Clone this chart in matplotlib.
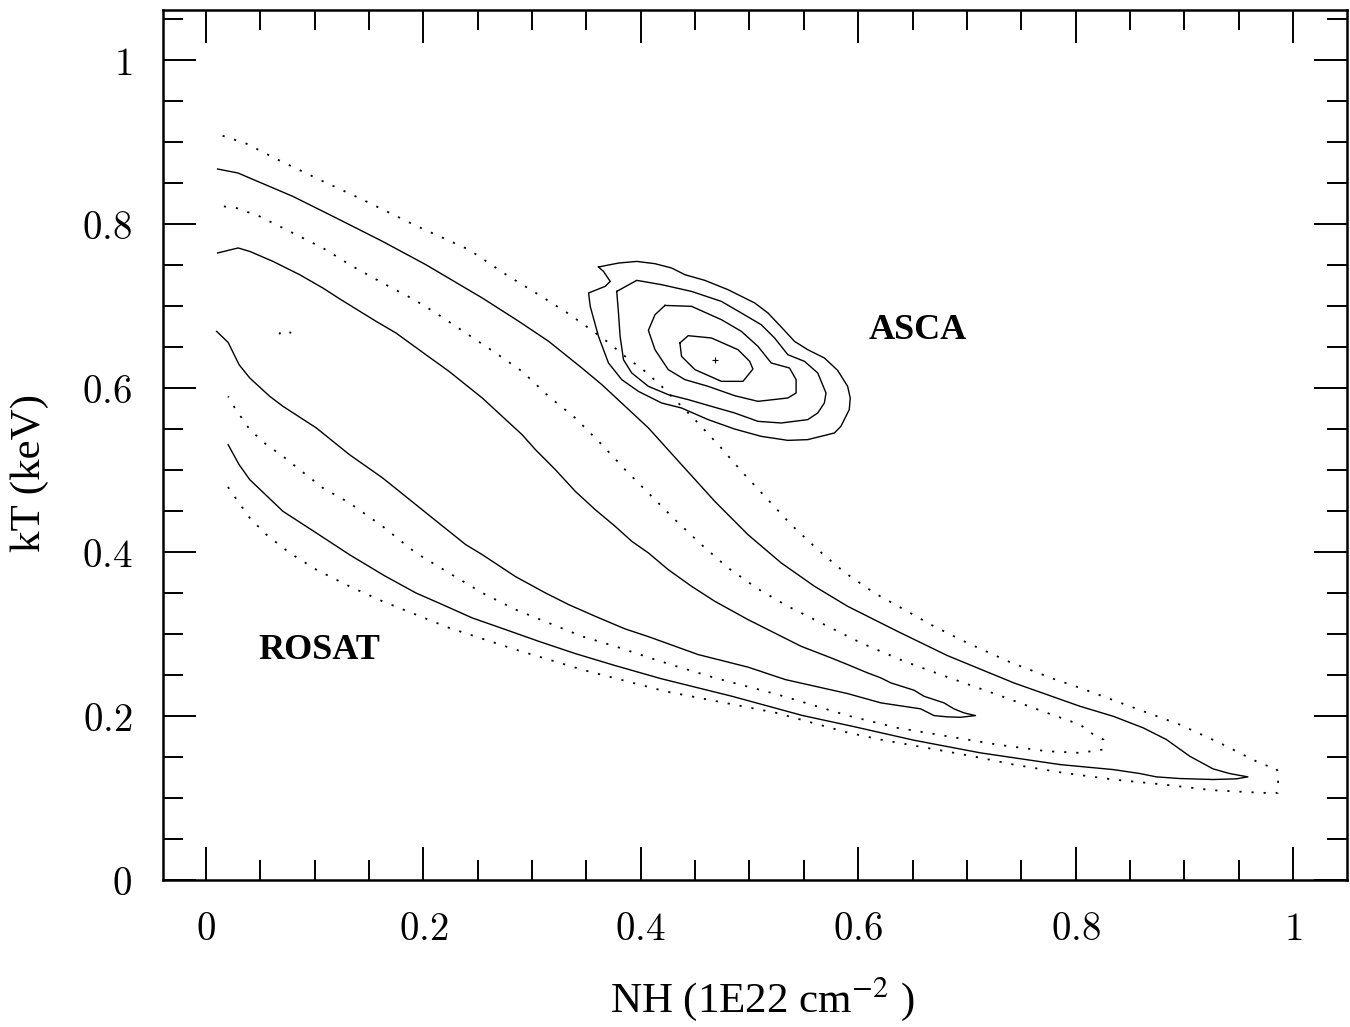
import matplotlib
matplotlib.use("Agg")
import matplotlib.pyplot as plt
from matplotlib.ticker import MultipleLocator

# ---- ROSAT confidence contours (NH, kT) ----
# outer dotted contour: upper branch out to the tip, then lower branch back
rosat_d1_nh = [0.0153, 0.0373, 0.0648, 0.1045, 0.1442, 0.1931, 0.2420, 0.2786, 0.3061, 0.3336,
               0.3520, 0.3687, 0.3856, 0.4039, 0.4192, 0.4345, 0.4498, 0.4727, 0.4940, 0.5170,
               0.5383, 0.5628, 0.5873, 0.6148, 0.6423, 0.6697, 0.7003, 0.7400, 0.7797, 0.8041,
               0.8500, 0.8958, 0.9325, 0.9722, 0.9844, 0.9865, 0.9860,
               0.9722, 0.9264, 0.8806, 0.8347, 0.7889, 0.7431, 0.7090, 0.6820, 0.6205, 0.5903,
               0.5248, 0.4225, 0.3458, 0.2848, 0.2236, 0.1625, 0.1320, 0.1015, 0.0770, 0.0556,
               0.0403, 0.0250, 0.0174]
rosat_d1_kt = [0.9073, 0.8976, 0.8789, 0.8537, 0.8293, 0.7976, 0.7683, 0.7357, 0.7134, 0.6902,
               0.6728, 0.6565, 0.6382, 0.6199, 0.6016, 0.5813, 0.5610, 0.5284, 0.4960, 0.4634,
               0.4329, 0.4024, 0.3748, 0.3496, 0.3293, 0.3089, 0.2887, 0.2650, 0.2448, 0.2338,
               0.2113, 0.1890, 0.1667, 0.1402, 0.1362, 0.1301, 0.1057,
               0.1057, 0.1089, 0.1159, 0.1220, 0.1301, 0.1402, 0.1494, 0.1561, 0.1707, 0.1793,
               0.2033, 0.2296, 0.2561, 0.2805, 0.3070, 0.3394, 0.3577, 0.3780, 0.3984, 0.4207,
               0.4411, 0.4695, 0.4845]

# outer solid contour
rosat_s1_nh = [0.0107, 0.0296, 0.0403, 0.0800, 0.1198, 0.1625, 0.2023, 0.2542, 0.2878, 0.3153,
               0.3458, 0.3642, 0.4070, 0.4375, 0.4681, 0.4986, 0.5292, 0.5598, 0.5903, 0.6361,
               0.6820, 0.7431, 0.8041, 0.8347, 0.8622, 0.8836, 0.9050, 0.9264, 0.9416, 0.9585,
               0.9478, 0.9264, 0.8958, 0.8744, 0.8591, 0.8347, 0.7858, 0.7125, 0.6514, 0.5944,
               0.5490, 0.4840, 0.4184, 0.3764, 0.3398, 0.3061, 0.2756, 0.2450, 0.2175, 0.1931,
               0.1641, 0.1320, 0.1015, 0.0709, 0.0403, 0.0305, 0.0204]
rosat_s1_kt = [0.8667, 0.8618, 0.8557, 0.8333, 0.8070, 0.7784, 0.7500, 0.7094, 0.6809, 0.6565,
               0.6240, 0.6037, 0.5509, 0.5061, 0.4613, 0.4207, 0.3862, 0.3577, 0.3333, 0.3028,
               0.2732, 0.2399, 0.2113, 0.1991, 0.1850, 0.1707, 0.1504, 0.1350, 0.1293, 0.1252,
               0.1228, 0.1220, 0.1232, 0.1252, 0.1293, 0.1341, 0.1402, 0.1545, 0.1699, 0.1870,
               0.2000, 0.2235, 0.2451, 0.2610, 0.2756, 0.2906, 0.3049, 0.3191, 0.3354, 0.3496,
               0.3707, 0.3963, 0.4228, 0.4491, 0.4878, 0.5061, 0.5305]

# inner dotted contour
rosat_d2_nh = [0.0165, 0.0281, 0.0495, 0.0770, 0.1075, 0.1350, 0.1625, 0.1916, 0.2115, 0.2390,
               0.2665, 0.2908, 0.3153, 0.3398, 0.3642, 0.3856, 0.4085, 0.4314, 0.4558, 0.4803,
               0.5078, 0.5353, 0.5658, 0.6025, 0.6423, 0.6820, 0.7278, 0.7736, 0.8041, 0.8164,
               0.8256, 0.8249,
               0.8041, 0.7736, 0.7278, 0.6820, 0.6361, 0.5903, 0.5261, 0.4681, 0.4375, 0.4131,
               0.3764, 0.3458, 0.3153, 0.2848, 0.2542, 0.2236, 0.1931, 0.1625, 0.1320, 0.1075,
               0.0862, 0.0709, 0.0556, 0.0403, 0.0266, 0.0204]
rosat_d2_kt = [0.8211, 0.8191, 0.8089, 0.7906, 0.7704, 0.7479, 0.7277, 0.7073, 0.6911, 0.6667,
               0.6423, 0.6199, 0.5894, 0.5630, 0.5305, 0.5000, 0.4695, 0.4390, 0.4085, 0.3801,
               0.3545, 0.3333, 0.3130, 0.2887, 0.2662, 0.2470, 0.2256, 0.2033, 0.1890, 0.1768,
               0.1707, 0.1585,
               0.1545, 0.1565, 0.1646, 0.1748, 0.1850, 0.2000, 0.2256, 0.2460, 0.2582, 0.2683,
               0.2845, 0.2967, 0.3130, 0.3293, 0.3496, 0.3740, 0.3984, 0.4309, 0.4594, 0.4777,
               0.5000, 0.5162, 0.5305, 0.5488, 0.5752, 0.5894]

# inner solid contour
rosat_s2_nh = [0.0107, 0.0296, 0.0403, 0.0617, 0.0862, 0.1075, 0.1228, 0.1565, 0.1748, 0.2023,
               0.2236, 0.2542, 0.2725, 0.2908, 0.3031, 0.3214, 0.3398, 0.3581, 0.3764, 0.3917,
               0.4070, 0.4253, 0.4467, 0.4681, 0.4986, 0.5292, 0.5475, 0.5750, 0.5903, 0.6086,
               0.6208, 0.6300, 0.6514, 0.6606, 0.6789, 0.6881, 0.6973, 0.7079,
               0.6941, 0.6820, 0.6697, 0.6575, 0.6208, 0.5903, 0.5330, 0.4986, 0.4528, 0.4070,
               0.3856, 0.3581, 0.3336, 0.3123, 0.2848, 0.2542, 0.2390, 0.2083, 0.1931, 0.1625,
               0.1320, 0.1015, 0.0709, 0.0587, 0.0403, 0.0305, 0.0204, 0.0098]
rosat_s2_kt = [0.7643, 0.7704, 0.7662, 0.7540, 0.7378, 0.7216, 0.7085, 0.6809, 0.6667, 0.6402,
               0.6199, 0.5874, 0.5650, 0.5427, 0.5244, 0.5000, 0.4735, 0.4512, 0.4309, 0.4126,
               0.3984, 0.3780, 0.3577, 0.3394, 0.3171, 0.2967, 0.2845, 0.2704, 0.2622, 0.2521,
               0.2460, 0.2399, 0.2309, 0.2235, 0.2155, 0.2082, 0.2033, 0.2000,
               0.1979, 0.1984, 0.2000, 0.2082, 0.2155, 0.2268, 0.2439, 0.2591, 0.2744, 0.2963,
               0.3057, 0.3211, 0.3354, 0.3496, 0.3695, 0.3963, 0.4085, 0.4411, 0.4573, 0.4899,
               0.5183, 0.5509, 0.5772, 0.5894, 0.6118, 0.6280, 0.6552, 0.6687]

# tiny dotted island near the ROSAT best fit
rosat_island_nh = [0.0675, 0.0690, 0.0785]
rosat_island_kt = [0.6650, 0.6690, 0.6670]

# ---- ASCA contours ----
asca_c1_nh = [0.3611, 0.3795, 0.3963, 0.4131, 0.4283, 0.4406, 0.4589, 0.4803, 0.5048, 0.5170,
              0.5292, 0.5414, 0.5536, 0.5689, 0.5811, 0.5903, 0.5927, 0.5918, 0.5841, 0.5781,
              0.5536, 0.5353, 0.5108, 0.4864, 0.4620, 0.4375, 0.4192, 0.3978, 0.3825, 0.3703,
              0.3611, 0.3535, 0.3520, 0.3673, 0.3719, 0.3657, 0.3611]
asca_c1_kt = [0.7472, 0.7520, 0.7540, 0.7512, 0.7460, 0.7378, 0.7309, 0.7195, 0.7033, 0.6911,
              0.6740, 0.6565, 0.6463, 0.6362, 0.6211, 0.6016, 0.5874, 0.5732, 0.5528, 0.5447,
              0.5366, 0.5357, 0.5406, 0.5495, 0.5610, 0.5752, 0.5813, 0.5955, 0.6098, 0.6301,
              0.6626, 0.6992, 0.7155, 0.7236, 0.7296, 0.7418, 0.7472]
asca_c2_nh = [0.3779, 0.3963, 0.4192, 0.4467, 0.4742, 0.4925, 0.5108, 0.5231, 0.5353, 0.5506,
              0.5628, 0.5704, 0.5689, 0.5628, 0.5536, 0.5292, 0.5078, 0.4864, 0.4650, 0.4436,
              0.4253, 0.4070, 0.3917, 0.3841, 0.3810, 0.3795, 0.3779]
asca_c2_kt = [0.7174, 0.7309, 0.7256, 0.7174, 0.7052, 0.6911, 0.6768, 0.6606, 0.6402, 0.6321,
              0.6179, 0.5935, 0.5813, 0.5691, 0.5610, 0.5569, 0.5589, 0.5691, 0.5772, 0.5854,
              0.5915, 0.6016, 0.6179, 0.6341, 0.6626, 0.6911, 0.7174]
asca_c3_nh = [0.4223, 0.4467, 0.4742, 0.4925, 0.5078, 0.5200, 0.5368, 0.5429, 0.5429, 0.5353,
              0.5078, 0.4864, 0.4620, 0.4406, 0.4253, 0.4131, 0.4070, 0.4131, 0.4223]
asca_c3_kt = [0.7003, 0.6992, 0.6829, 0.6687, 0.6504, 0.6301, 0.6240, 0.6098, 0.5935, 0.5874,
              0.5833, 0.5902, 0.6016, 0.6098, 0.6220, 0.6463, 0.6699, 0.6890, 0.7003]
asca_c4_nh = [0.4360, 0.4436, 0.4650, 0.4895, 0.5002, 0.5032, 0.4940, 0.4742, 0.4498, 0.4375,
              0.4360]
asca_c4_kt = [0.6545, 0.6634, 0.6606, 0.6463, 0.6321, 0.6227, 0.6077, 0.6077, 0.6220, 0.6382,
              0.6545]
asca_best_nh = 0.468
asca_best_kt = 0.634

x_ticks = [0, 0.2, 0.4, 0.6, 0.8, 1]
x_tick_labels = ['0', '0.2', '0.4', '0.6', '0.8', '1']
y_ticks = [0, 0.2, 0.4, 0.6, 0.8, 1]
y_tick_labels = ['0', '0.2', '0.4', '0.6', '0.8', '1']

serif = 'Liberation Serif'
dotted = (0, (1.2, 5.5))

fig = plt.figure(figsize=(13.5, 10.27), dpi=100)
ax = fig.add_axes([0.1205, 0.1436, 0.8773, 0.8466])

# solid contours
for nh, kt in [(rosat_s1_nh, rosat_s1_kt), (rosat_s2_nh, rosat_s2_kt),
               (asca_c1_nh, asca_c1_kt), (asca_c2_nh, asca_c2_kt),
               (asca_c3_nh, asca_c3_kt), (asca_c4_nh, asca_c4_kt)]:
    ax.plot(nh, kt, color='black', lw=1.0)

# dotted contours
for nh, kt in [(rosat_d1_nh, rosat_d1_kt), (rosat_d2_nh, rosat_d2_kt),
               (rosat_island_nh, rosat_island_kt)]:
    ax.plot(nh, kt, color='black', lw=1.3, ls=dotted)

ax.plot(asca_best_nh, asca_best_kt, marker='+', ms=5, mew=0.8, color='black')

ax.text(0.655, 0.670, 'ASCA', ha='center', va='center', fontsize=26,
        fontweight='bold', family=serif)
ax.text(0.104, 0.279, 'ROSAT', ha='center', va='center', fontsize=26,
        fontweight='bold', family=serif)

ax.set_xlim(-0.0398, 1.0497)
ax.set_ylim(0, 1.0606)

ax.set_xticks(x_ticks)
ax.set_xticklabels(['$' + t + '$' for t in x_tick_labels])
ax.set_yticks(y_ticks)
ax.set_yticklabels(['$' + t + '$' for t in y_tick_labels])
ax.xaxis.set_minor_locator(MultipleLocator(0.05))
ax.yaxis.set_minor_locator(MultipleLocator(0.05))
for lab in ax.get_xticklabels() + ax.get_yticklabels():
    lab.set_math_fontfamily('cm')
    lab.set_fontsize(28)

ax.tick_params(which='both', direction='in', top=True, right=True, width=1.4, color='black')
ax.tick_params(which='major', length=23.5, pad=22)
ax.tick_params(which='minor', length=14.5)
for sp in ax.spines.values():
    sp.set_linewidth(1.8)

fig.text(0.022, 0.539, 'kT (keV)', rotation=90, ha='center', va='center',
         fontsize=31, family=serif)
fig.text(0.565, 0.027, r'NH (1E22 cm$^{-2}$ )', ha='center', va='center',
         fontsize=31, family=serif, math_fontfamily='stix')

fig.savefig('out.png', dpi=100)
